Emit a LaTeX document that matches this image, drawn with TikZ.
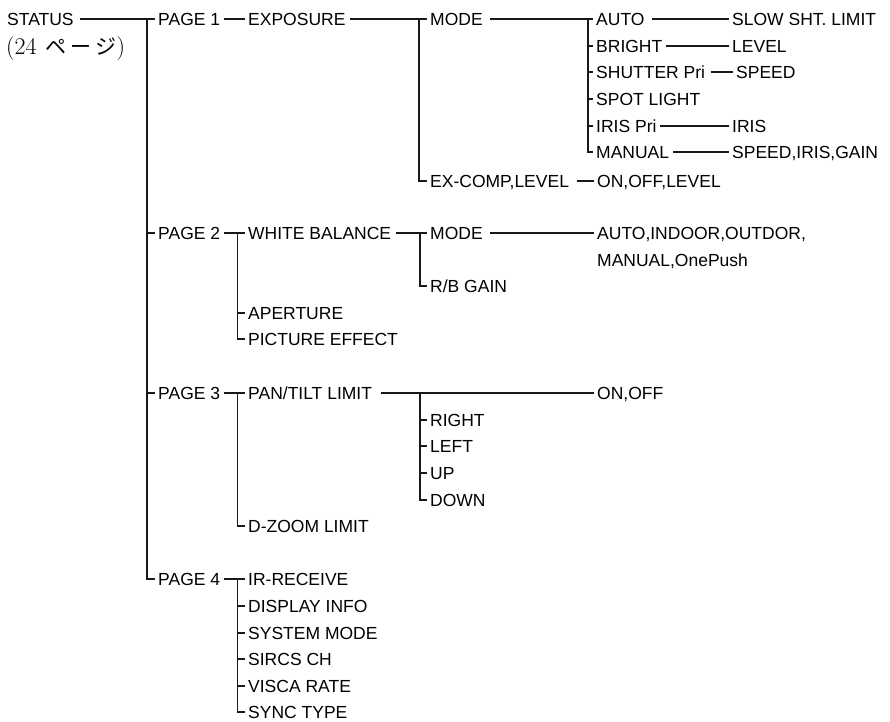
\documentclass[tikz,border=0pt]{standalone}
\usepackage{fontspec}
\newfontfamily\arial{Liberation Sans}
\newfontfamily\jp{Noto Sans CJK JP}
\begin{document}
\begin{tikzpicture}[x=1pt,y=-1pt,
  lbl/.style={font=\arial\fontsize{17.5}{20}\selectfont, text=black, inner xsep=3.5pt, inner ysep=0pt,
              text height=12.5pt, text depth=0pt, anchor=west},
  ln/.style={line width=1.15pt, draw=black!90}]
\useasboundingbox (0,0) rectangle (890,721);

% root
\node[lbl] (status) at (3.5,19) {STATUS};
\node[anchor=base west, inner sep=0pt, text=black, font=\fontsize{24}{26}\selectfont] (pg) at (6,54)
  {(24\hspace{9pt}{\jp\fontsize{21}{24}\selectfont ペ\hspace{4pt}ー\hspace{4pt}ジ})};

% pages
\node[lbl] (p1) at (154.5,19) {PAGE 1};
\node[lbl] (p2) at (154.5,233) {PAGE 2};
\node[lbl] (p3) at (154.5,393) {PAGE 3};
\node[lbl] (p4) at (154.5,579) {PAGE 4};

% page 1
\node[lbl] (expo) at (244.5,19) {EXPOSURE};
\node[lbl] (mode1) at (426.5,19) {MODE};
\node[lbl] (excomp) at (426.5,181) {EX-COMP,LEVEL};
\node[lbl] (onofflvl) at (593.5,181) {ON,OFF,LEVEL};
\node[lbl] (auto) at (592.5,19) {AUTO};
\node[lbl] (bright) at (592.5,46) {BRIGHT};
\node[lbl] (shut) at (592.5,72) {SHUTTER Pri};
\node[lbl] (spot) at (592.5,99) {SPOT LIGHT};
\node[lbl] (irisp) at (592.5,126) {IRIS Pri};
\node[lbl] (man) at (592.5,152) {MANUAL};
\node[lbl] (slow) at (728.5,19) {SLOW SHT. LIMIT};
\node[lbl] (lvl) at (728.5,46) {LEVEL};
\node[lbl] (spd) at (732.5,72) {SPEED};
\node[lbl] (iris) at (728.5,126) {IRIS};
\node[lbl] (sig) at (728.5,152) {SPEED,IRIS,GAIN};

% page 2
\node[lbl] (wb) at (244.5,233) {WHITE BALANCE};
\node[lbl] (mode2) at (426.5,233) {MODE};
\node[lbl] (awb) at (593.5,233) {AUTO,INDOOR,OUTDOR,};
\node[lbl] (awb2) at (593.5,260) {MANUAL,OnePush};
\node[lbl] (rbg) at (426.5,286) {R/B GAIN};
\node[lbl] (ap) at (244.5,313) {APERTURE};
\node[lbl] (pe) at (244.5,339) {PICTURE EFFECT};

% page 3
\node[lbl] (pt) at (244.5,393) {PAN/TILT LIMIT};
\node[lbl] (onoff) at (593.5,393) {ON,OFF};
\node[lbl] (right) at (426.5,420) {RIGHT};
\node[lbl] (left) at (426.5,446) {LEFT};
\node[lbl] (up) at (426.5,473) {UP};
\node[lbl] (down) at (426.5,500) {DOWN};
\node[lbl] (dz) at (244.5,526) {D-ZOOM LIMIT};

% page 4
\node[lbl] (ir) at (244.5,579) {IR-RECEIVE};
\node[lbl] (disp) at (244.5,606) {DISPLAY INFO};
\node[lbl] (sys) at (244.5,633) {SYSTEM MODE};
\node[lbl] (sircs) at (244.5,659) {SIRCS CH};
\node[lbl] (visca) at (244.5,686) {VISCA RATE};
\node[lbl] (sync) at (244.5,712) {SYNC TYPE};

% junctions
\coordinate (j0) at (147,19);
\coordinate (j2) at (237.5,233);
\coordinate (j3) at (237.5,393);
\coordinate (j4) at (237.5,579);
\coordinate (j1) at (419,19);
\coordinate (jw) at (420,233);
\coordinate (jp) at (420,393);
\coordinate (jm) at (588,19);

% root connectors
\draw[ln] ([xshift=3pt]status.east) -- (p1.west);
\draw[ln] (j0) |- (p4.west);
\draw[ln] (j0 |- p2.west) -- (p2.west);
\draw[ln] (j0 |- p3.west) -- (p3.west);

% page 1
\draw[ln] (p1.east) -- (expo.west);
\draw[ln] ([xshift=1pt]expo.east) -- (mode1.west);
\draw[ln] (j1) |- (excomp.west);
\draw[ln] ([xshift=4pt]excomp.east) -- (onofflvl.west);
\draw[ln] ([xshift=4pt]mode1.east) -- (auto.west);
\draw[ln] (jm) |- (man.west);
\foreach \n in {bright,shut,spot,irisp} \draw[ln] (jm |- \n.west) -- (\n.west);
\draw[ln] ([xshift=4pt]auto.east) -- (slow.west);
\draw[ln] (bright.east) -- (lvl.west);
\draw[ln] ([xshift=2pt]shut.east) -- (spd.west);
\draw[ln] (irisp.east) -- (iris.west);
\draw[ln] (man.east) -- (sig.west);

% page 2
\draw[ln] (p2.east) -- (wb.west);
\draw[ln] (j2) |- (pe.west);
\draw[ln] (j2 |- ap.west) -- (ap.west);
\draw[ln] ([xshift=1pt]wb.east) -- (mode2.west);
\draw[ln] (jw) |- (rbg.west);
\draw[ln] ([xshift=4pt]mode2.east) -- (awb.west);

% page 3
\draw[ln] (p3.east) -- (pt.west);
\draw[ln] (j3) |- (dz.west);
\draw[ln] ([xshift=5pt]pt.east) -- (onoff.west);
\draw[ln] (jp) |- (down.west);
\foreach \n in {right,left,up} \draw[ln] (jp |- \n.west) -- (\n.west);

% page 4
\draw[ln] (p4.east) -- (ir.west);
\draw[ln] (j4) |- (sync.west);
\foreach \n in {disp,sys,sircs,visca} \draw[ln] (j4 |- \n.west) -- (\n.west);
\end{tikzpicture}
\end{document}
